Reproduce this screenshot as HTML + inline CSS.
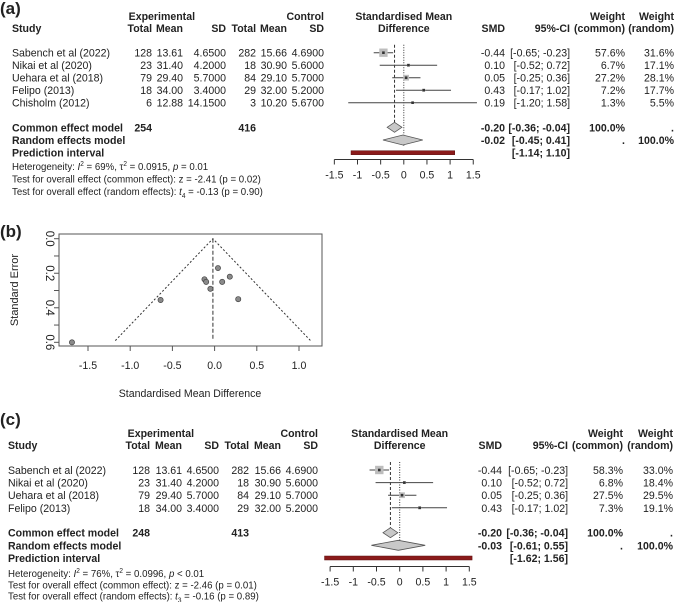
<!DOCTYPE html>
<html><head><meta charset="utf-8">
<style>
html,body{margin:0;padding:0;background:#fff;}
svg{display:block;font-family:"Liberation Sans",Arial,sans-serif;}
text{fill:#222;}
</style></head>
<body>
<svg id="fig" width="676" height="602" viewBox="0 0 676 602" xmlns="http://www.w3.org/2000/svg"></svg>
<script>
// ---- Panel (a) data ----
const aStudies = ["Sabench et al (2022)","Nikai et al (2020)","Uehara et al (2018)","Felipo (2013)","Chisholm (2012)"];
const aExpN = ["128","23","79","18","6"];
const aExpMean = ["13.61","31.40","29.40","34.00","12.88"];
const aExpSD = ["4.6500","4.2000","5.7000","3.4000","14.1500"];
const aCtlN = ["282","18","84","29","3"];
const aCtlMean = ["15.66","30.90","29.10","32.00","10.20"];
const aCtlSD = ["4.6900","5.6000","5.7000","5.2000","5.6700"];
const aSmd = [-0.44,0.10,0.05,0.43,0.19];
const aLo = [-0.65,-0.52,-0.25,-0.17,-1.20];
const aHi = [-0.23,0.72,0.36,1.02,1.58];
const aWc = [57.6,6.7,27.2,7.2,1.3];
const aWr = [31.6,17.1,28.1,17.7,5.5];
const aCommon = [-0.20,-0.36,-0.04];
const aRandom = [-0.02,-0.45,0.41];
const aPred = [-1.14,1.10];
const aTotals = ["254","416"];
const aHet = ["69%","0.0915","= 0.01","z = -2.41 (p = 0.02)","4","= -0.13 (p = 0.90)"];

// ---- Panel (c) data ----
const cStudies = ["Sabench et al (2022)","Nikai et al (2020)","Uehara et al (2018)","Felipo (2013)"];
const cExpN = ["128","23","79","18"];
const cExpMean = ["13.61","31.40","29.40","34.00"];
const cExpSD = ["4.6500","4.2000","5.7000","3.4000"];
const cCtlN = ["282","18","84","29"];
const cCtlMean = ["15.66","30.90","29.10","32.00"];
const cCtlSD = ["4.6900","5.6000","5.7000","5.2000"];
const cSmd = [-0.44,0.10,0.05,0.43];
const cLo = [-0.65,-0.52,-0.25,-0.17];
const cHi = [-0.23,0.72,0.36,1.02];
const cWc = [58.3,6.8,27.5,7.3];
const cWr = [33.0,18.4,29.5,19.1];
const cCommon = [-0.20,-0.36,-0.04];
const cRandom = [-0.03,-0.61,0.55];
const cPred = [-1.62,1.56];
const cTotals = ["248","413"];
const cHet = ["76%","0.0996","< 0.01","z = -2.46 (p = 0.01)","3","= -0.16 (p = 0.89)"];

const forestTicks = [-1.5,-1,-0.5,0,0.5,1,1.5];
const forestTickLabels = ["-1.5","-1","-0.5","0","0.5","1","1.5"];

// ---- Panel (b) funnel data ----
const fSmd = [-1.69,-0.64,0.04,-0.12,-0.10,-0.05,0.09,0.18,0.28];
const fSe = [0.60,0.355,0.17,0.235,0.25,0.29,0.25,0.22,0.35];
const fPooled = -0.02;
const fXTicks = [-1.5,-1.0,-0.5,0.0,0.5,1.0];
const fXTickLabels = ["-1.5","-1.0","-0.5","0.0","0.5","1.0"];
const fYTicks = [0,0.1,0.2,0.3,0.4,0.5,0.6];
const fYTickLabels = ["0.0","0.2","0.4","0.6"];
const fYLabelVals = [0,0.2,0.4,0.6];

const NS="http://www.w3.org/2000/svg";
const svg=document.getElementById('fig');
const SX=0.92;
function el(tag,attrs,parent){const e=document.createElementNS(NS,tag);for(const k in attrs)e.setAttribute(k,attrs[k]);(parent||svg).appendChild(e);return e;}
function txt(x,y,s,opts,parent){opts=opts||{};const sc=opts.noscale?1:SX;const t=el('text',{x:0,y:0,transform:`translate(${x},${y}) scale(${sc},1)`,'font-size':opts.size||11.5,'text-anchor':opts.anchor||'start','font-weight':opts.bold?'bold':'normal'},parent);t.textContent=s;return t;}

function forest(p){
  const g=el('g',{});
  
  
  const sx=v=>p.x0+v*p.k;
  const lab=txt(0,p.labelY,p.label,{size:17,bold:true,noscale:true},g);
  
  const C=p.cols;
  txt(C.emean+12,p.h1,'Experimental',{anchor:'end',bold:true},g);
  txt(C.csd,p.h1,'Control',{anchor:'end',bold:true},g);
  txt(p.x0,p.h1,'Standardised Mean',{anchor:'middle',bold:true},g);
  txt(C.wc,p.h1,'Weight',{anchor:'end',bold:true},g);
  txt(C.wr,p.h1,'Weight',{anchor:'end',bold:true},g);
  txt(C.study,p.h2,'Study',{bold:true},g);
  [[C.en,'Total'],[C.emean,'Mean'],[C.esd,'SD'],[C.cn,'Total'],[C.cmean,'Mean'],[C.csd,'SD']].forEach(([x,s])=>{txt(x,p.h2,s,{anchor:'end',bold:true},g);});
  txt(p.x0,p.h2,'Difference',{anchor:'middle',bold:true},g);
  txt(C.smd,p.h2,'SMD',{anchor:'end',bold:true},g);
  txt(C.ci,p.h2,'95%-CI',{anchor:'end',bold:true},g);
  txt(C.wc,p.h2,'(common)',{anchor:'end',bold:true},g);
  txt(C.wr,p.h2,'(random)',{anchor:'end',bold:true},g);
  const fmt=v=>(v<0?'-':'')+Math.abs(v).toFixed(2);
  const fci=(l,h)=>'['+fmt(l)+'; '+(h<0?'':' ')+fmt(h)+']';
  const n=p.studies.length;
  const top=p.rowY[0]-8;
  const zl=el('line',{x1:sx(0),x2:sx(0),y1:top,y2:p.randY+6,stroke:'#333','stroke-width':1,'stroke-dasharray':'1,1.5'},g);
  
  const cl=el('line',{x1:sx(p.common[0]),x2:sx(p.common[0]),y1:top,y2:p.comY,stroke:'#333','stroke-width':1,'stroke-dasharray':'3,2'},g);
  
  for(let i=0;i<n;i++){
    const y=p.rowY[i];
    txt(C.study,y+4,p.studies[i],{},g);
    txt(C.en,y+4,p.en[i],{anchor:'end'},g);
    txt(C.emean,y+4,p.em[i],{anchor:'end'},g);
    txt(C.esd,y+4,p.esd[i],{anchor:'end'},g);
    txt(C.cn,y+4,p.cn[i],{anchor:'end'},g);
    txt(C.cmean,y+4,p.cm[i],{anchor:'end'},g);
    txt(C.csd,y+4,p.csd[i],{anchor:'end'},g);
    txt(C.smd,y+4,fmt(p.smd[i]),{anchor:'end'},g);
    txt(C.ci,y+4,fci(p.lo[i],p.hi[i]),{anchor:'end'},g);
    txt(C.wc,y+4,p.wc[i].toFixed(1)+'%',{anchor:'end'},g);
    txt(C.wr,y+4,p.wr[i].toFixed(1)+'%',{anchor:'end'},g);
    const ci=el('line',{x1:sx(p.lo[i]),x2:sx(p.hi[i]),y1:y,y2:y,stroke:'#444','stroke-width':1},g);
    
    const s=1.1*Math.sqrt(p.wc[i]);
    const sq=el('rect',{x:sx(p.smd[i])-s/2,y:y-s/2,width:s,height:s,fill:'#bdbdbd'},g);
    
    const pt=el('rect',{x:sx(p.smd[i])-1.3,y:y-1.3,width:2.6,height:2.6,fill:'#333'},g);
    
  }
  txt(C.study,p.comY+4,'Common effect model',{bold:true},g);
  txt(C.en,p.comY+4,p.totals[0],{anchor:'end',bold:true},g);
  txt(C.cn,p.comY+4,p.totals[1],{anchor:'end',bold:true},g);
  txt(C.study,p.randY+4,'Random effects model',{bold:true},g);
  txt(C.study,p.predY+4,'Prediction interval',{bold:true},g);
  txt(C.smd,p.comY+4,fmt(p.common[0]),{anchor:'end',bold:true},g);
  txt(C.ci,p.comY+4,fci(p.common[1],p.common[2]),{anchor:'end',bold:true},g);
  txt(C.wc,p.comY+4,'100.0%',{anchor:'end',bold:true},g);
  txt(C.wr,p.comY+4,'.',{anchor:'end',bold:true},g);
  txt(C.smd,p.randY+4,fmt(p.random[0]),{anchor:'end',bold:true},g);
  txt(C.ci,p.randY+4,fci(p.random[1],p.random[2]),{anchor:'end',bold:true},g);
  txt(C.wc,p.randY+4,'.',{anchor:'end',bold:true},g);
  txt(C.wr,p.randY+4,'100.0%',{anchor:'end',bold:true},g);
  txt(C.ci,p.predY+4,fci(p.pred[0],p.pred[1]),{anchor:'end',bold:true},g);
  const dia=(v,y,nm)=>{const d=el('polygon',{points:`${sx(v[1])},${y} ${sx(v[0])},${y-5} ${sx(v[2])},${y} ${sx(v[0])},${y+5}`,fill:'#c8c8c8',stroke:'#555','stroke-width':0.8},g);
    };
  dia(p.common,p.comY,'common-effect-diamond');
  dia(p.random,p.randY,'random-effects-diamond');
  const pr=el('rect',{x:sx(p.pred[0]),y:p.predY-2,width:sx(p.pred[1])-sx(p.pred[0]),height:4,fill:'#8b1a1a',stroke:'#5a1010','stroke-width':0.5},g);
  
  const ax=el('line',{x1:sx(forestTicks[0]),x2:sx(forestTicks[forestTicks.length-1]),y1:p.axY,y2:p.axY,stroke:'#333','stroke-width':1},g);
  
  forestTicks.forEach((t,i)=>{
    el('line',{x1:sx(t),x2:sx(t),y1:p.axY,y2:p.axY+5,stroke:'#333','stroke-width':1},g);
    const tl=txt(sx(t),p.axY+19,forestTickLabels[i],{anchor:'middle',size:11.5},g);
    
  });
  const h=p.het,hs=10.4;
  const mk=(y,html)=>{const t=el('text',{x:0,y:0,transform:`translate(${C.study},${y}) scale(0.93,1)`,'font-size':hs},g);t.innerHTML=html;return t;};
  mk(p.hetY[0],`Heterogeneity: <tspan font-style="italic">I</tspan><tspan dy="-4" font-size="7">2</tspan><tspan dy="4"> = ${h[0]}, τ</tspan><tspan dy="-4" font-size="7">2</tspan><tspan dy="4"> = ${h[1]}, </tspan><tspan font-style="italic">p</tspan> ${h[2]}`);
  mk(p.hetY[1],`Test for overall effect (common effect): ${h[3]}`);
  mk(p.hetY[2],`Test for overall effect (random effects): <tspan font-style="italic">t</tspan><tspan dy="3" font-size="7">${h[4]}</tspan><tspan dy="-3"> ${h[5]}</tspan>`);
}

forest({name:'forest-plot-a',label:'(a)',labelY:14,x0:403.8,k:46.3,
  cols:{study:12,en:152,emean:183,esd:226,cn:256,cmean:287,csd:324,smd:505,ci:570,wc:625,wr:674},
  h1:20,h2:32,rowY:[52.7,65.2,77.7,90.2,102.7],comY:127.3,randY:140,predY:152.7,axY:159.5,hetY:[170,182.5,195],
  studies:aStudies,en:aExpN,em:aExpMean,esd:aExpSD,cn:aCtlN,cm:aCtlMean,csd:aCtlSD,smd:aSmd,lo:aLo,hi:aHi,wc:aWc,wr:aWr,
  common:aCommon,random:aRandom,pred:aPred,totals:aTotals,het:aHet});

forest({name:'forest-plot-c',label:'(c)',labelY:425,x0:399.7,k:46.4,
  cols:{study:8,en:150,emean:182,esd:219,cn:249,cmean:281,csd:318,smd:502,ci:568,wc:623,wr:673},
  h1:437,h2:449,rowY:[470,482.6,495.2,507.8],comY:532.7,randY:545.3,predY:558,axY:566.5,hetY:[577,588.5,599.5],
  studies:cStudies,en:cExpN,em:cExpMean,esd:cExpSD,cn:cCtlN,cm:cCtlMean,csd:cCtlSD,smd:cSmd,lo:cLo,hi:cHi,wc:cWc,wr:cWr,
  common:cCommon,random:cRandom,pred:cPred,totals:cTotals,het:cHet});

(function(){
  const g=el('g',{});
  
  
  const fx=v=>214.6+v*84.4, fy=v=>238.7+v*172.7;
  const lab=txt(0,237,'(b)',{size:17,bold:true,noscale:true},g);
  
  const box=el('rect',{x:59,y:234,width:263,height:112,fill:'none',stroke:'#555','stroke-width':1},g);
  
  const seMax=0.59;
  const tri=el('polyline',{points:`${fx(fPooled-1.96*seMax)},${fy(seMax)} ${fx(fPooled)},${fy(0)} ${fx(fPooled+1.96*seMax)},${fy(seMax)}`,fill:'none',stroke:'#333','stroke-width':1,'stroke-dasharray':'2,2'},g);
  
  const vl=el('line',{x1:fx(fPooled),x2:fx(fPooled),y1:fy(0),y2:fy(seMax),stroke:'#333','stroke-width':1,'stroke-dasharray':'4,2'},g);
  
  fSmd.forEach((v,i)=>{
    const c=el('circle',{cx:fx(v),cy:fy(fSe[i]),r:2.6,fill:'#8a8a8a',stroke:'#444','stroke-width':0.7},g);
    
  });
  fXTicks.forEach((t,i)=>{
    el('line',{x1:fx(t),x2:fx(t),y1:346,y2:351,stroke:'#555'},g);
    const tl=txt(fx(t),369,fXTickLabels[i],{anchor:'middle',size:11.5},g);
    
  });
  fYTicks.forEach(t=>{el('line',{x1:54,x2:59,y1:fy(t),y2:fy(t),stroke:'#555'},g);});
  fYLabelVals.forEach((t,i)=>{
    const tl=el('text',{x:0,y:0,'font-size':11.5,'text-anchor':'middle',transform:`translate(46,${fy(t)}) rotate(90)`},g);
    tl.textContent=fYTickLabels[i];
    
  });
  const yt=el('text',{x:0,y:0,'font-size':11,'text-anchor':'middle',transform:'translate(18,290) rotate(-90)'},g);
  yt.textContent='Standard Error';
  
  const xt=txt(190,397,'Standardised Mean Difference',{anchor:'middle',size:11.5},g);
  
})();
</script>
</body></html>
